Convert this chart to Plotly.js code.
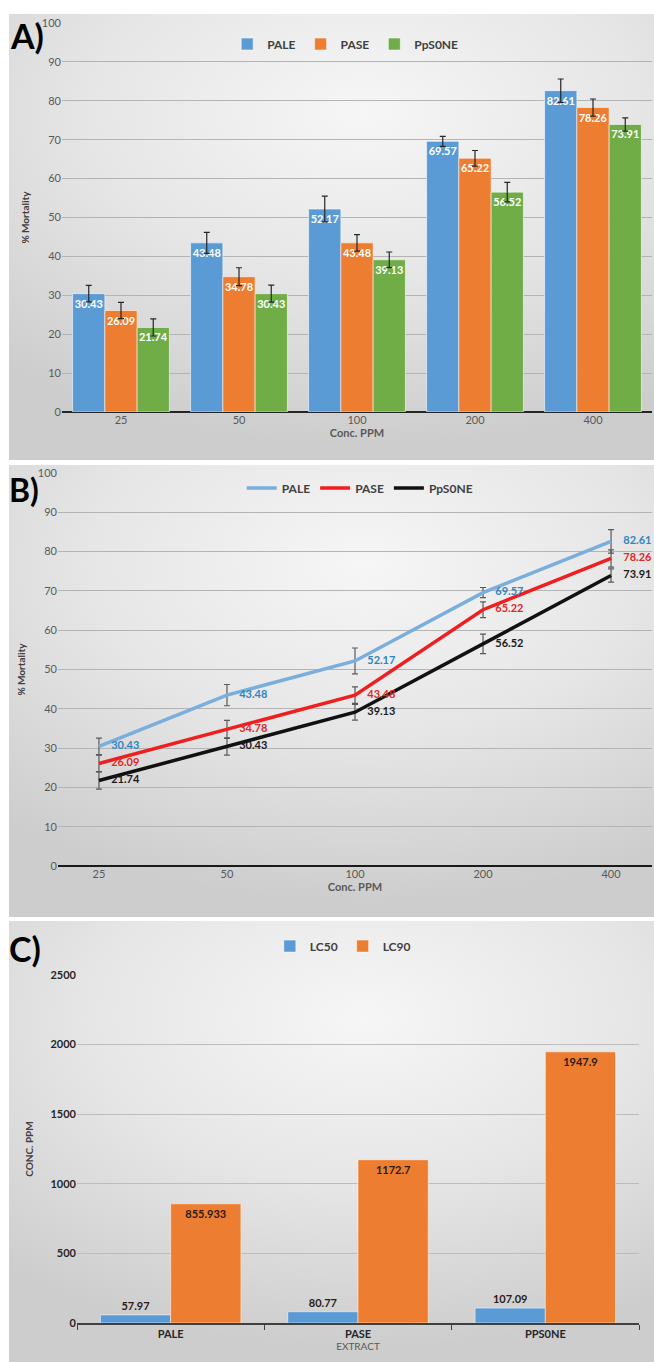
<!DOCTYPE html>
<html><head><meta charset="utf-8">
<script src="https://cdn.plot.ly/plotly-3.0.1.min.js"></script>
<style>
body{margin:0;background:#fff;width:654px;height:1362px;position:relative;overflow:hidden}
.panel{position:absolute;left:9px;width:645px;background:radial-gradient(ellipse 85% 75% at 55% 22%, #f6f6f6 0%, #e6e6e6 50%, #cdcdcd 100%);}
#a{top:14px;height:446px}
#b{top:465px;height:452px}
#c{top:921px;height:441px}
</style></head><body>
<div id="a" class="panel"></div>
<div id="b" class="panel"></div>
<div id="c" class="panel"></div>
<script>
// ---- data ----
const concLabels = ['25', '50', '100', '200', '400'];
const seriesNames = ['PALE', 'PASE', 'PpS0NE'];
const paleVals = [30.43, 43.48, 52.17, 69.57, 82.61];
const paseVals = [26.09, 34.78, 43.48, 65.22, 78.26];
const pps0neVals = [21.74, 30.43, 39.13, 56.52, 73.91];
const paleErr = [2.1, 2.7, 3.3, 1.3, 3.0];
const paseErr = [2.1, 2.3, 2.1, 2.0, 2.2];
const pps0neErr = [2.2, 2.2, 2.0, 2.5, 1.7];
const extracts = ['PALE', 'PASE', 'PPS0NE'];
const lcNames = ['LC50', 'LC90'];
const lc50Vals = [57.97, 80.77, 107.09];
const lc90Vals = [855.933, 1172.7, 1947.9];

const FONT = 'Lato, "Open Sans", "DejaVu Sans", sans-serif';
const cfg = {displayModeBar: false, staticPlot: true};
const valsAll = [paleVals, paseVals, pps0neVals];
const errAll = [paleErr, paseErr, pps0neErr];

// ---- Panel A ----
const barColorsA = ['#5b9bd5', '#ed7d31', '#70ad47'];
const tracesA = seriesNames.map((n, i) => ({
  type: 'bar', name: n, x: concLabels, y: valsAll[i],
  marker: {color: barColorsA[i], line: {color: 'rgba(255,255,255,0.55)', width: 1}},
  error_y: {type: 'data', array: errAll[i], visible: true, color: '#262626', thickness: 1.2, width: 3},
  text: valsAll[i].map(v => v.toFixed(2)), textposition: 'inside', insidetextanchor: 'end',
  textangle: 0, constraintext: 'none', cliponaxis: false,
  textfont: {family: FONT, size: 11, color: '#ffffff', weight: 'bold'},
  hoverinfo: 'skip'
}));
const layoutA = {
  width: 645, height: 446,
  margin: {l: 53, r: 2, t: 9, b: 48},
  paper_bgcolor: 'rgba(0,0,0,0)', plot_bgcolor: 'rgba(0,0,0,0)',
  font: {family: FONT, color: '#595959'},
  barmode: 'group', bargap: 0.18, bargroupgap: 0,
  xaxis: {type: 'category', tickfont: {size: 11, color: '#595959'}, showgrid: false,
    title: {text: 'Conc. PPM', font: {size: 11, color: '#595959', weight: 'bold'}, standoff: 4}},
  yaxis: {range: [0, 100], dtick: 10, tickfont: {size: 11, color: '#595959'},
    gridcolor: '#b4b4b4', gridwidth: 1, zeroline: true, zerolinecolor: '#262626', zerolinewidth: 2.5,
    ticks: '', title: {text: '% Mortality', font: {size: 10, color: '#404040', weight: 'bold'}, standoff: 10}},
  legend: {orientation: 'h', x: 0.48, xanchor: 'center', y: 0.946, yanchor: 'middle',
    bgcolor: 'rgba(0,0,0,0)', font: {size: 12, color: '#404040', weight: 'bold'}, itemwidth: 30},
  annotations: [{text: 'A)', xref: 'paper', yref: 'paper', x: -0.06, y: 0.967,
    xanchor: 'center', yanchor: 'middle', showarrow: false,
    font: {family: FONT, size: 34, color: '#000', weight: 'bold'}}]
};
Plotly.newPlot('a', tracesA, layoutA, cfg);

// ---- Panel B ----
const lineColorsB = ['#7aaedc', '#f01e1e', '#111111'];
const labelColorsB = ['#2e86c1', '#e02828', '#1a1a1a'];
const linesB = seriesNames.map((n, i) => ({
  type: 'scatter', mode: 'lines', name: n, x: concLabels, y: valsAll[i],
  line: {color: lineColorsB[i], width: 3.5},
  error_y: {type: 'data', array: errAll[i], visible: true, color: '#5a5a5a', thickness: 1.2, width: 3},
  hoverinfo: 'skip'
}));
const labelsB = seriesNames.map((n, i) => ({
  type: 'scatter', mode: 'markers+text', name: n + ' labels', showlegend: false,
  x: concLabels, y: valsAll[i],
  marker: {size: 18, color: 'rgba(0,0,0,0)'},
  text: valsAll[i].map(v => v.toFixed(2)), textposition: 'middle right', cliponaxis: false,
  textfont: {family: FONT, size: 11, color: labelColorsB[i], weight: 'bold'},
  hoverinfo: 'skip'
}));
const layoutB = {
  width: 645, height: 452,
  margin: {l: 49, r: 2, t: 8, b: 51},
  paper_bgcolor: 'rgba(0,0,0,0)', plot_bgcolor: 'rgba(0,0,0,0)',
  font: {family: FONT, color: '#595959'},
  xaxis: {type: 'category', tickfont: {size: 11, color: '#595959'}, showgrid: false,
    title: {text: 'Conc. PPM', font: {size: 11, color: '#595959', weight: 'bold'}, standoff: 4}},
  yaxis: {range: [0, 100], dtick: 10, tickfont: {size: 11, color: '#595959'},
    gridcolor: '#b4b4b4', gridwidth: 1, zeroline: true, zerolinecolor: '#1a1a1a', zerolinewidth: 2.5,
    ticks: '', title: {text: '% Mortality', font: {size: 10, color: '#404040', weight: 'bold'}, standoff: 10}},
  legend: {orientation: 'h', x: 0.508, xanchor: 'center', y: 0.962, yanchor: 'middle',
    bgcolor: 'rgba(0,0,0,0)', font: {size: 12, color: '#404040', weight: 'bold'}, itemwidth: 30},
  annotations: [{text: 'B)', xref: 'paper', yref: 'paper', x: (15 - 49) / 594, y: (866 - 489) / 393,
    xanchor: 'center', yanchor: 'middle', showarrow: false,
    font: {family: FONT, size: 32, color: '#000', weight: 'bold'}}]
};
Plotly.newPlot('b', linesB.concat(labelsB), layoutB, cfg);

// ---- Panel C ----
const lcVals = [lc50Vals, lc90Vals];
const barColorsC = ['#5b9bd5', '#ed7d31'];
const tracesC = lcNames.map((n, i) => ({
  type: 'bar', name: n, x: extracts, y: lcVals[i],
  marker: {color: barColorsC[i], line: {color: 'rgba(255,255,255,0.5)', width: 1}},
  text: lcVals[i].map(v => String(v)),
  textposition: i === 0 ? 'outside' : 'inside', insidetextanchor: 'end',
  textangle: 0, constraintext: 'none', cliponaxis: false,
  textfont: {family: FONT, size: 11, color: '#2a1c14', weight: 'bold'},
  hoverinfo: 'skip'
}));
const layoutC = {
  width: 645, height: 441,
  margin: {l: 68, r: 15, t: 53, b: 39},
  paper_bgcolor: 'rgba(0,0,0,0)', plot_bgcolor: 'rgba(0,0,0,0)',
  font: {family: FONT, color: '#595959'},
  barmode: 'group', bargap: 0.25, bargroupgap: 0,
  xaxis: {type: 'category', tickfont: {size: 11, color: '#262626', weight: 'bold'}, showgrid: false,
    showline: true, linecolor: '#404040', linewidth: 1.5,
    ticks: 'outside', tickson: 'boundaries', ticklen: 5, tickcolor: '#404040',
    title: {text: 'EXTRACT', font: {size: 10, color: '#595959'}, standoff: 2}},
  yaxis: {range: [0, 2500], dtick: 500, tickfont: {size: 11, color: '#262626', weight: 'bold'},
    gridcolor: '#bdbdbd', gridwidth: 1, zeroline: false, ticks: '',
    title: {text: 'CONC. PPM', font: {size: 10, color: '#404040', weight: 'bold'}, standoff: 14}},
  legend: {orientation: 'h', x: 0.473, xanchor: 'center', y: 1.08, yanchor: 'middle',
    bgcolor: 'rgba(0,0,0,0)', font: {size: 12, color: '#404040', weight: 'bold'}, itemwidth: 30},
  annotations: [{text: 'C)', xref: 'paper', yref: 'paper', x: (16 - 68) / 562, y: (1323 - 947) / 349,
    xanchor: 'center', yanchor: 'middle', showarrow: false,
    font: {family: FONT, size: 34, color: '#000', weight: 'bold'}}]
};
Plotly.newPlot('c', tracesC, layoutC, cfg);
</script>
</body></html>
